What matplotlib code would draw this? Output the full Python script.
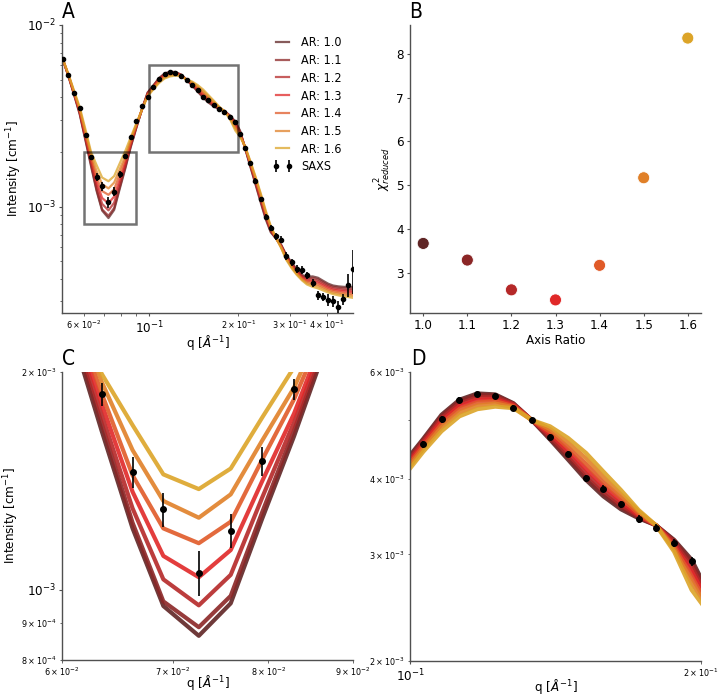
import numpy as np
import matplotlib
matplotlib.use('Agg')
import matplotlib.pyplot as plt
from matplotlib.patches import Rectangle
from matplotlib.ticker import FixedLocator

plt.rcParams['font.stretch'] = 'condensed'

# ---------------- data ----------------
q = [0.0508, 0.0531, 0.0555, 0.0580, 0.0607, 0.0634, 0.0662, 0.0691, 0.0726, 0.0759,
     0.0793, 0.0829, 0.0863, 0.0902, 0.0943, 0.0986, 0.1032, 0.1078, 0.1125, 0.1174,
     0.1225, 0.1279, 0.1336, 0.1396, 0.1457, 0.1521, 0.1585, 0.1653, 0.1724, 0.1797,
     0.1876, 0.1956, 0.2029, 0.2110, 0.2194, 0.2288, 0.2386, 0.2481, 0.2581, 0.2691,
     0.2799, 0.2911, 0.3034, 0.3157, 0.3291, 0.3422, 0.3578, 0.3731, 0.3880, 0.4035,
     0.4197, 0.4377, 0.4551, 0.4733, 0.4897]

# intensities in units of 1e-3 cm^-1
saxs_I = [6.50, 5.33, 4.22, 3.48, 2.48, 1.863, 1.453, 1.292, 1.056, 1.207,
          1.506, 1.893, 2.40, 2.97, 3.58, 4.00, 4.56, 5.01, 5.39, 5.51,
          5.47, 5.24, 5.00, 4.68, 4.39, 4.01, 3.85, 3.63, 3.43, 3.32,
          3.13, 2.92, 2.50, 2.11, 1.73, 1.39, 1.10, 0.877, 0.763, 0.687,
          0.658, 0.533, 0.492, 0.454, 0.448, 0.417, 0.378, 0.324, 0.317, 0.306,
          0.302, 0.281, 0.309, 0.371, 0.454]
saxs_err = [0.09, 0.08, 0.08, 0.075, 0.07, 0.068, 0.071, 0.069, 0.076, 0.066,
            0.069, 0.063, 0.06, 0.06, 0.06, 0.06, 0.06, 0.06, 0.06, 0.06,
            0.06, 0.058, 0.056, 0.055, 0.054, 0.053, 0.052, 0.05, 0.05, 0.048,
            0.047, 0.046, 0.045, 0.042, 0.04, 0.038, 0.035, 0.033, 0.031, 0.03,
            0.031, 0.026, 0.023, 0.025, 0.022, 0.018, 0.020, 0.018, 0.017, 0.022,
            0.021, 0.021, 0.022, 0.052, 0.125]

I_ar10 = [6.46, 5.22, 4.12, 3.22, 2.30, 1.66, 1.216, 0.950, 0.864, 0.958,
          1.254, 1.630, 2.11, 2.70, 3.43, 4.25, 4.655, 5.10, 5.40, 5.53,
          5.51, 5.33, 5.00, 4.64, 4.30, 3.98, 3.74, 3.56, 3.44, 3.35,
          3.17, 2.94, 2.62, 2.10, 1.68, 1.33, 1.05, 0.850, 0.720, 0.665,
          0.615, 0.542, 0.492, 0.452, 0.420, 0.410, 0.412, 0.405, 0.390, 0.376,
          0.367, 0.363, 0.361, 0.360, 0.360]
I_ar11 = [6.47, 5.24, 4.15, 3.26, 2.34, 1.70, 1.238, 0.964, 0.888, 0.981,
          1.280, 1.660, 2.14, 2.72, 3.43, 4.22, 4.633, 5.07, 5.37, 5.50,
          5.49, 5.32, 5.00, 4.66, 4.34, 4.02, 3.78, 3.59, 3.45, 3.35,
          3.16, 2.91, 2.59, 2.11, 1.70, 1.35, 1.07, 0.865, 0.730, 0.666,
          0.611, 0.537, 0.486, 0.447, 0.415, 0.404, 0.404, 0.397, 0.383, 0.369,
          0.361, 0.357, 0.354, 0.353, 0.352]
I_ar12 = [6.48, 5.26, 4.18, 3.30, 2.38, 1.75, 1.296, 1.034, 0.952, 1.049,
          1.341, 1.704, 2.18, 2.75, 3.42, 4.19, 4.601, 5.03, 5.32, 5.45,
          5.45, 5.31, 5.00, 4.70, 4.39, 4.08, 3.83, 3.62, 3.47, 3.35,
          3.14, 2.86, 2.56, 2.12, 1.72, 1.38, 1.09, 0.880, 0.740, 0.666,
          0.607, 0.531, 0.481, 0.442, 0.411, 0.397, 0.395, 0.388, 0.375, 0.363,
          0.354, 0.350, 0.347, 0.346, 0.345]
I_ar13 = [6.48, 5.28, 4.21, 3.35, 2.43, 1.81, 1.366, 1.114, 1.041, 1.135,
          1.413, 1.752, 2.22, 2.77, 3.42, 4.15, 4.565, 4.98, 5.27, 5.40,
          5.41, 5.29, 5.00, 4.74, 4.45, 4.15, 3.89, 3.67, 3.48, 3.35,
          3.11, 2.81, 2.53, 2.12, 1.74, 1.40, 1.11, 0.900, 0.750, 0.667,
          0.603, 0.526, 0.475, 0.437, 0.406, 0.391, 0.387, 0.380, 0.368, 0.356,
          0.348, 0.344, 0.341, 0.339, 0.337]
I_ar14 = [6.49, 5.30, 4.25, 3.40, 2.49, 1.87, 1.440, 1.216, 1.160, 1.242,
          1.513, 1.834, 2.27, 2.80, 3.42, 4.12, 4.525, 4.92, 5.21, 5.34,
          5.37, 5.27, 5.00, 4.78, 4.51, 4.23, 3.95, 3.72, 3.50, 3.35,
          3.09, 2.75, 2.49, 2.13, 1.76, 1.42, 1.14, 0.915, 0.760, 0.668,
          0.598, 0.520, 0.469, 0.431, 0.401, 0.385, 0.378, 0.371, 0.360, 0.349,
          0.342, 0.337, 0.334, 0.331, 0.329]
I_ar15 = [6.50, 5.33, 4.29, 3.46, 2.56, 1.94, 1.560, 1.327, 1.258, 1.355,
          1.608, 1.903, 2.33, 2.83, 3.42, 4.08, 4.480, 4.86, 5.14, 5.28,
          5.32, 5.25, 5.00, 4.83, 4.59, 4.32, 4.03, 3.77, 3.53, 3.35,
          3.06, 2.69, 2.46, 2.14, 1.78, 1.45, 1.16, 0.930, 0.770, 0.669,
          0.594, 0.515, 0.464, 0.426, 0.397, 0.378, 0.370, 0.363, 0.353, 0.343,
          0.335, 0.331, 0.327, 0.324, 0.322]
I_ar16 = [6.52, 5.36, 4.34, 3.53, 2.65, 1.99, 1.689, 1.444, 1.378, 1.471,
          1.730, 2.030, 2.40, 2.86, 3.41, 4.04, 4.430, 4.79, 5.07, 5.21,
          5.26, 5.23, 5.00, 4.88, 4.67, 4.41, 4.11, 3.83, 3.55, 3.35,
          3.03, 2.62, 2.42, 2.15, 1.80, 1.47, 1.18, 0.950, 0.780, 0.670,
          0.590, 0.509, 0.458, 0.421, 0.392, 0.372, 0.361, 0.354, 0.345, 0.336,
          0.329, 0.324, 0.320, 0.317, 0.314]

axis_ratio = [1.0, 1.1, 1.2, 1.3, 1.4, 1.5, 1.6]
chi2_reduced = [3.67, 3.29, 2.61, 2.38, 3.17, 5.17, 8.36]
ar_labels = ['AR: 1.0', 'AR: 1.1', 'AR: 1.2', 'AR: 1.3', 'AR: 1.4', 'AR: 1.5', 'AR: 1.6']

colors = ['#5f2424', '#8b2626', '#b52828', '#e02828', '#e05a28', '#e08028', '#dca428']
UNIT = 1e-3

models = [I_ar10, I_ar11, I_ar12, I_ar13, I_ar14, I_ar15, I_ar16]
qa = np.array(q)
Ia = np.array(saxs_I) * UNIT
Ea = np.array(saxs_err) * UNIT

# ---------------- figure ----------------
fig = plt.figure(figsize=(7.2, 6.96), dpi=100)
W, H = 720.0, 696.0
def box(l, t, r, b):
    return [l / W, 1 - b / H, (r - l) / W, (b - t) / H]

axA = fig.add_axes(box(62, 25, 353, 313))
axB = fig.add_axes(box(410, 25, 701, 313))
axC = fig.add_axes(box(62, 372, 353, 660))
axD = fig.add_axes(box(410, 372, 701, 661))

spine_col = '#505050'
for ax in (axA, axB, axC, axD):
    ax.spines['top'].set_visible(False)
    ax.spines['right'].set_visible(False)
    for s in ('left', 'bottom'):
        ax.spines[s].set_color(spine_col)
        ax.spines[s].set_linewidth(1.0)
    ax.tick_params(which='both', colors=spine_col, labelcolor='black')
    ax.tick_params(which='major', labelsize=9.5, length=2.5, pad=2)
    ax.tick_params(which='minor', labelsize=6.5, length=1.8, pad=2)

lab_kw = dict(fontsize=9.5)

# Panel A
for I, c, lab in zip(models, colors, ar_labels):
    axA.plot(qa, np.array(I) * UNIT, color=c, lw=1.6, alpha=0.75, label=lab)
axA.errorbar(qa, Ia, yerr=Ea, fmt='o', color='black', ms=3, elinewidth=1.2,
             capsize=0, label='SAXS', zorder=5)
axA.set_xscale('log')
axA.set_yscale('log')
axA.set_xlim(0.0505, 0.4905)
axA.set_ylim(2.59e-4, 1e-2)
axA.add_patch(Rectangle((0.06, 8e-4), 0.03, 1.2e-3, fill=False, ec='black',
                        alpha=0.55, lw=1.8, zorder=6))
axA.add_patch(Rectangle((0.1, 2e-3), 0.1, 4e-3, fill=False, ec='black',
                        alpha=0.55, lw=1.8, zorder=6))
axA.set_xlabel(r'q [$\AA^{-1}$]', **lab_kw)
axA.xaxis.set_label_coords(0.5, -0.068)
axA.set_ylabel(r'Intensity [cm$^{-1}$]', labelpad=2, **lab_kw)
axA.legend(loc='upper right', frameon=False, fontsize=9, numpoints=2,
           bbox_to_anchor=(1.0, 1.0), handlelength=1.6, labelspacing=0.38,
           handletextpad=0.7)

# Panel B
axB.scatter(axis_ratio, chi2_reduced, c=colors, s=75, edgecolors='white',
            linewidths=0.6, zorder=3)
axB.set_xticks(axis_ratio)
axB.set_xlabel('Axis Ratio', labelpad=1, **lab_kw)
axB.set_ylabel(r'$\chi^2_{reduced}$', labelpad=2, **lab_kw)

# Panel C
for I, c in zip(models, colors):
    axC.plot(qa, np.array(I) * UNIT, color=c, lw=3, alpha=0.9)
axC.errorbar(qa, Ia, yerr=Ea, fmt='o', color='black', ms=4, elinewidth=1.2,
             capsize=0, zorder=5)
axC.set_xscale('log')
axC.set_yscale('log')
axC.set_xlim(0.06, 0.09)
axC.set_ylim(8e-4, 2e-3)
axC.set_xlabel(r'q [$\AA^{-1}$]', **lab_kw)
axC.xaxis.set_label_coords(0.5, -0.045)
axC.set_ylabel(r'Intensity [cm$^{-1}$]', labelpad=0, **lab_kw)

# Panel D
for I, c in zip(models, colors):
    axD.plot(qa, np.array(I) * UNIT, color=c, lw=3, alpha=0.9)
axD.errorbar(qa, Ia, yerr=Ea, fmt='o', color='black', ms=4, elinewidth=1.2,
             capsize=0, zorder=5)
axD.set_xscale('log')
axD.set_yscale('log')
axD.set_xlim(0.1, 0.2)
axD.set_ylim(2e-3, 6e-3)
axD.xaxis.set_major_locator(FixedLocator([0.1]))
axD.xaxis.set_minor_locator(FixedLocator([0.2]))
axD.set_xlabel(r'q [$\AA^{-1}$]', **lab_kw)
axD.xaxis.set_label_coords(0.5, -0.056)

# Panel letters
for x, y, letter in ((62, 18, 'A'), (409, 18, 'B'), (62, 365, 'C'), (411, 365, 'D')):
    fig.text(x / W, 1 - y / H, letter, fontsize=15, ha='left', va='baseline')

fig.savefig('out.png', dpi=100)
